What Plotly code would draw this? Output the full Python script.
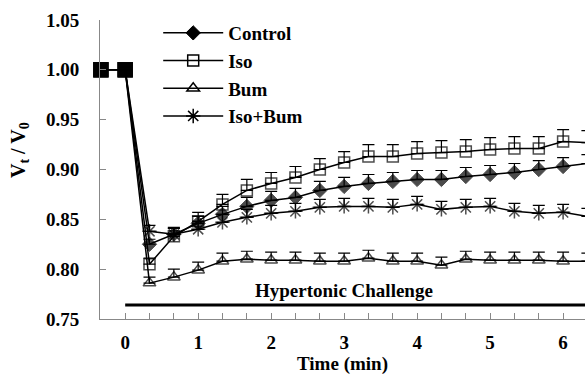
import plotly.graph_objects as go

TIME = [-0.333, 0, 0.333, 0.667, 1.0, 1.333, 1.667, 2.0, 2.333, 2.667, 3.0, 3.333,
        3.667, 4.0, 4.333, 4.667, 5.0, 5.333, 5.667, 6.0, 6.333]

CONTROL = [1.00, 1.00, 0.825, 0.835, 0.846, 0.855, 0.863, 0.869, 0.872, 0.879, 0.883,
           0.886, 0.888, 0.890, 0.890, 0.893, 0.895, 0.897, 0.900, 0.903, 0.906]
ISO = [1.00, 1.00, 0.805, 0.833, 0.848, 0.865, 0.879, 0.886, 0.892, 0.900, 0.907,
       0.913, 0.913, 0.916, 0.917, 0.918, 0.920, 0.921, 0.921, 0.928, 0.927]
BUM = [1.00, 1.00, 0.786, 0.792, 0.799, 0.808, 0.810, 0.809, 0.809, 0.808, 0.808,
       0.811, 0.808, 0.808, 0.804, 0.810, 0.809, 0.809, 0.809, 0.808, 0.808]
ISO_BUM = [1.00, 1.00, 0.838, 0.835, 0.840, 0.847, 0.852, 0.856, 0.858, 0.862, 0.863,
           0.863, 0.862, 0.865, 0.860, 0.862, 0.863, 0.858, 0.856, 0.857, 0.853]

ERR_CONTROL = [0, 0, 0.005, 0.006, 0.007, 0.008, 0.009, 0.009, 0.009, 0.009, 0.009,
               0.009, 0.009, 0.009, 0.009, 0.009, 0.009, 0.009, 0.009, 0.009, 0.009]
ERR_ISO = [0, 0.003, 0.006, 0.008, 0.009, 0.010, 0.011, 0.011, 0.011, 0.011, 0.011,
           0.012, 0.012, 0.012, 0.012, 0.012, 0.012, 0.012, 0.012, 0.012, 0.012]
ERR_BUM = [0, 0, 0.006, 0.008, 0.008, 0.008, 0.008, 0.008, 0.008, 0.008, 0.008,
           0.008, 0.008, 0.008, 0.008, 0.008, 0.008, 0.008, 0.008, 0.009, 0.008]
ERR_ISO_BUM = [0, 0, 0.006, 0.007, 0.008, 0.008, 0.008, 0.008, 0.008, 0.008, 0.008,
               0.008, 0.008, 0.008, 0.008, 0.008, 0.008, 0.008, 0.008, 0.008, 0.008]

SERIES_NAMES = ["Control", "Iso", "Bum", "Iso+Bum"]
X_TICK_VALUES = [0, 1, 2, 3, 4, 5, 6]
X_TICK_LABELS = ["0", "1", "2", "3", "4", "5", "6"]
Y_TICK_VALUES = [0.75, 0.80, 0.85, 0.90, 0.95, 1.00, 1.05]
X_TITLE = "Time (min)"
Y_TITLE = "V<sub>t</sub> / V<sub>0</sub>"
CHALLENGE_LABEL = "Hypertonic Challenge"
CHALLENGE_LEVEL = 0.764
CHALLENGE_START = 0

FONT = "Liberation Serif, Times New Roman, serif"
BOLD = dict(family=FONT, color="black", weight="bold")

styles = [
    dict(symbol="diamond", size=11, color="black", line=dict(color="black", width=1)),
    dict(symbol="square-open", size=11, color="black", line=dict(color="black", width=1.5)),
    dict(symbol="triangle-up-open", size=11, color="black", line=dict(color="black", width=1.5)),
    dict(symbol="asterisk-open", size=12, color="black", line=dict(color="black", width=1.5)),
]

fig = go.Figure()
for i, (name, ys, errs) in enumerate(zip(SERIES_NAMES, [CONTROL, ISO, BUM, ISO_BUM],
                                          [ERR_CONTROL, ERR_ISO, ERR_BUM, ERR_ISO_BUM])):
    st = styles[i]
    n = len(ys)
    symbols = ["square", "square"] + [st["symbol"]] * (n - 2)
    sizes = [14, 14] + [st["size"]] * (n - 2)
    fig.add_trace(go.Scatter(
        x=TIME, y=ys, name=name, mode="lines+markers",
        line=dict(color="black", width=1.5),
        marker=dict(symbol=symbols, size=sizes, color="black", line=st["line"]),
        error_y=dict(type="data", symmetric=False, array=errs,
                     arrayminus=[0] * n, color="black", thickness=1.2, width=6),
        legendgroup=name, showlegend=False, cliponaxis=False,
    ))

for i, name in enumerate(SERIES_NAMES):
    st = styles[i]
    fig.add_trace(go.Scatter(
        x=[None], y=[None], name=name, mode="lines+markers",
        line=dict(color="black", width=1.5),
        marker=dict(symbol=st["symbol"], size=st["size"], color="black", line=st["line"]),
        legendgroup=name, showlegend=True,
    ))

fig.add_shape(type="line", xref="x", yref="y", x0=CHALLENGE_START, x1=7,
              y0=CHALLENGE_LEVEL, y1=CHALLENGE_LEVEL,
              line=dict(color="black", width=3))
fig.add_annotation(x=3.0, y=0.779, xref="x", yref="y", text=CHALLENGE_LABEL,
                   showarrow=False, font=dict(size=19, **BOLD))
fig.add_annotation(x=-0.167, y=0.565, xref="paper", yref="paper", text=Y_TITLE,
                   textangle=-90, showarrow=False, xanchor="center", yanchor="middle",
                   font=dict(size=20, **BOLD))

fig.update_layout(
    width=585, height=376,
    margin=dict(l=100, r=0, t=20, b=57),
    plot_bgcolor="white", paper_bgcolor="white",
    font=dict(family=FONT, color="black"),
    showlegend=True,
    legend=dict(x=0.12, y=1.02, xanchor="left", yanchor="top",
                bgcolor="rgba(0,0,0,0)", itemwidth=60, tracegroupgap=0,
                traceorder="grouped", font=dict(size=19, **BOLD)),
)
fig.update_xaxes(
    range=[-0.345, 6.30], tickvals=X_TICK_VALUES, ticktext=X_TICK_LABELS,
    ticks="inside", ticklen=6, tickcolor="#888", tickwidth=1,
    minor=dict(dtick=1/3, tick0=0, ticks="inside", ticklen=6, tickcolor="#888"),
    showline=True, linecolor="#888", linewidth=1, showgrid=False, zeroline=False,
    ticklabelstandoff=6,
    tickfont=dict(size=19, **BOLD),
    title=dict(text=X_TITLE, standoff=2, font=dict(size=19, **BOLD)),
)
fig.update_yaxes(
    range=[0.75, 1.05], tickvals=Y_TICK_VALUES, tickformat=".2f",
    ticks="inside", ticklen=6, tickcolor="#888", tickwidth=1,
    showline=True, linecolor="#888", linewidth=1, showgrid=False, zeroline=False,
    ticklabelstandoff=16,
    tickfont=dict(size=19, **BOLD),
)

fig.write_html("out.html")
